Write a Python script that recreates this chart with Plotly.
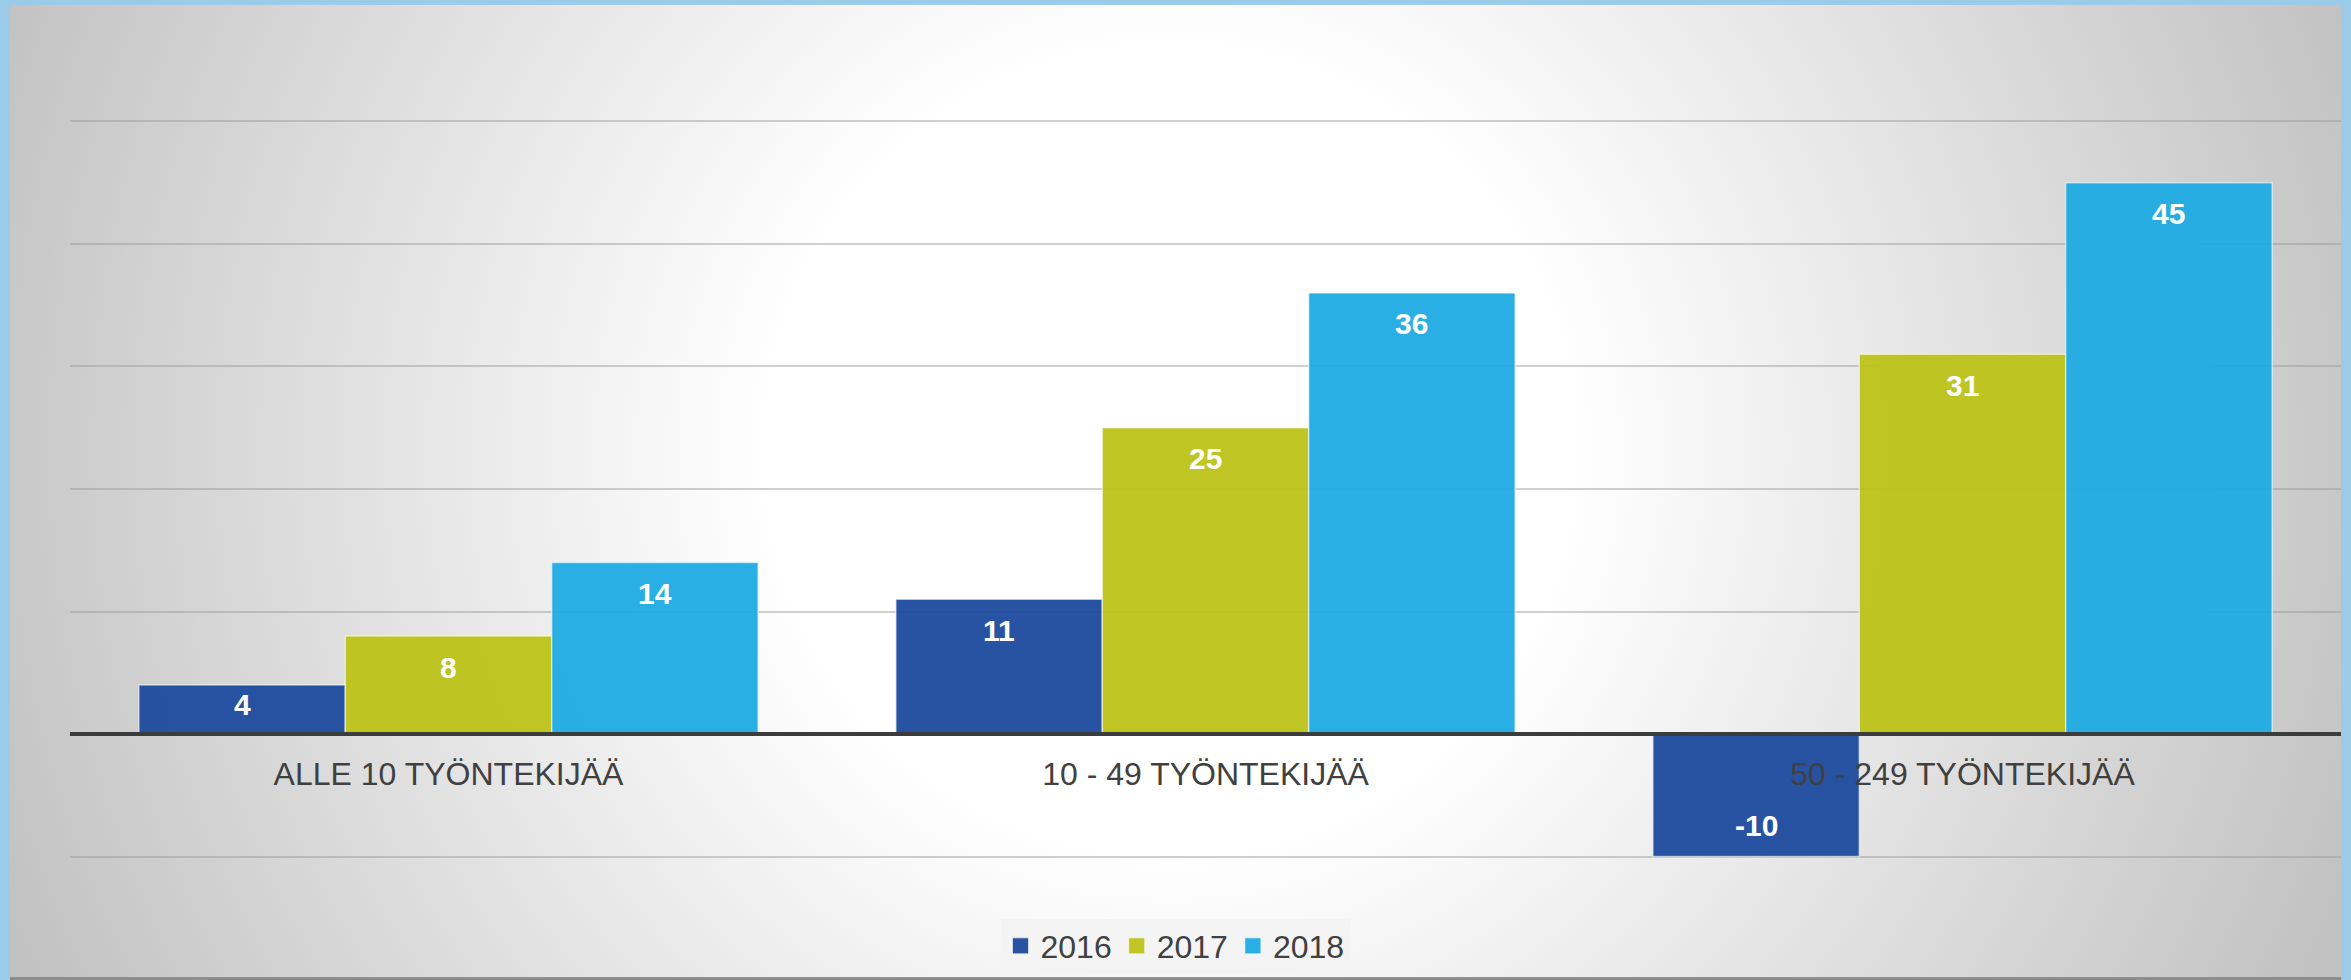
import base64
import plotly.graph_objects as go

# ---- data ----
categories = ["ALLE 10 TYÖNTEKIJÄÄ", "10 - 49 TYÖNTEKIJÄÄ", "50 - 249 TYÖNTEKIJÄÄ"]
series_names = ["2016", "2017", "2018"]
values_2016 = [4, 11, -10]
values_2017 = [8, 25, 31]
values_2018 = [14, 36, 45]
y_tick_values = [-10, 0, 10, 20, 30, 40, 50]

# ---- style ----
W, H = 2351, 980
PAD = 0.2                      # small range padding so edge gridlines are drawn
UNIT_PX = 12.25
ML, MR = 70, 10
MT, MB = 121.5 - PAD * UNIT_PX, 123.5 - PAD * UNIT_PX
PW, PH = W - ML - MR, H - MT - MB
Y_MIN, Y_MAX = -10 - PAD, 50 + PAD
BARGAP = 0.182
colors = ["rgba(30,76,158,0.96)", "rgba(188,195,26,0.96)", "rgba(30,171,226,0.95)"]
TEXT_DARK = "#404040"
FONT = "Liberation Sans, Arial, sans-serif"

svg = f'''<svg xmlns="http://www.w3.org/2000/svg" width="{W}" height="{H}" viewBox="0 0 {W} {H}" preserveAspectRatio="none">
<defs><radialGradient id="g" gradientUnits="userSpaceOnUse" cx="1170" cy="450" r="1250">
<stop offset="0.32" stop-color="#ffffff"/><stop offset="1" stop-color="#c2c2c2"/></radialGradient></defs>
<rect width="{W}" height="{H}" fill="#9ccbea"/>
<rect x="10" y="5" width="{W-20}" height="{H-5}" fill="url(#g)"/>
<rect x="10" y="{H-3}" width="{W-20}" height="3" fill="#8c8c8c"/>
</svg>'''
bg_src = "data:image/svg+xml;base64," + base64.b64encode(svg.encode("utf-8")).decode("ascii")

fig = go.Figure()
all_values = [values_2016, values_2017, values_2018]
for name, vals, col in zip(series_names, all_values, colors):
    fig.add_trace(go.Bar(
        x=categories, y=vals, name=name, showlegend=False,
        marker=dict(color=col, line=dict(color="rgba(255,255,255,0.55)", width=1.5)),
        hoverinfo="skip",
    ))
# legend entries with larger square swatches
for name, col in zip(series_names, colors):
    fig.add_trace(go.Scatter(
        x=[None], y=[None], mode="markers", name=name,
        marker=dict(symbol="square", size=16, color=col,
                    line=dict(color="rgba(255,255,255,0.6)", width=1)),
    ))

# data labels placed inside the bar end
px_per_unit = PH / (Y_MAX - Y_MIN)
bar_px = PW / len(categories) * (1 - BARGAP) / len(series_names)
annotations = []
for i, vals in enumerate(all_values):
    for cat, v in zip(categories, vals):
        h = abs(v) * px_per_unit
        shift = min(31, h / 2 - 5)
        annotations.append(dict(
            x=cat, y=v, xref="x", yref="y", text=f"<b>{v}</b>", showarrow=False,
            xshift=(i - 1) * bar_px, yshift=-shift if v >= 0 else shift,
            xanchor="center", yanchor="middle",
            font=dict(family=FONT, size=30, color="white"),
        ))

fig.update_layout(
    width=W, height=H,
    margin=dict(l=ML, r=MR, t=MT, b=MB, pad=0, autoexpand=False),
    paper_bgcolor="#9ccbea",
    plot_bgcolor="rgba(0,0,0,0)",
    barmode="group", bargap=BARGAP, bargroupgap=0,
    font=dict(family=FONT, color=TEXT_DARK),
    images=[dict(source=bg_src, xref="paper", yref="paper",
                 x=-ML / PW, y=1 + MT / PH, sizex=W / PW, sizey=H / PH,
                 xanchor="left", yanchor="top", sizing="stretch", layer="below")],
    xaxis=dict(
        anchor="free", position=(0 - Y_MIN) / (Y_MAX - Y_MIN),
        showline=True, linecolor="#3c3c3c", linewidth=3.5,
        showgrid=False, ticks="", ticklabelstandoff=11, automargin=False,
        tickfont=dict(family=FONT, size=32, color=TEXT_DARK),
        fixedrange=True,
    ),
    yaxis=dict(
        range=[Y_MIN, Y_MAX], tickvals=y_tick_values, showticklabels=False,
        showgrid=True, gridcolor="rgba(150,150,150,0.45)", gridwidth=2,
        zeroline=False, showline=False, fixedrange=True, automargin=False,
    ),
    legend=dict(
        orientation="h", x=(1175 - ML) / PW, xanchor="center",
        y=(H - MB - 946) / PH, yanchor="middle",
        bgcolor="#f4f4f4", font=dict(family=FONT, size=32, color=TEXT_DARK),
        itemclick=False, itemdoubleclick=False, itemwidth=30,
    ),
    annotations=annotations,
    showlegend=True,
)

fig.write_html("out.html", config={"displayModeBar": False},
               post_script="document.body.style.margin='0';")
